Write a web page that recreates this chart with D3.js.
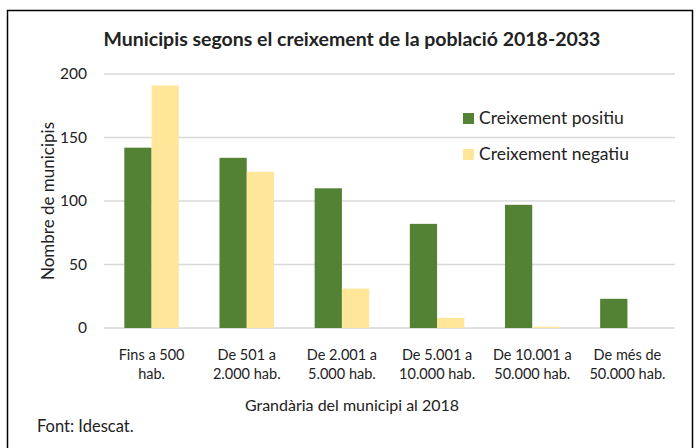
<!DOCTYPE html>
<html>
<head>
<meta charset="utf-8">
<script src="https://cdn.jsdelivr.net/npm/d3@7"></script>
<style>
  body { margin: 0; background: #fff; }
  text { font-family: Lato, "Open Sans", sans-serif; fill: #222; }
</style>
</head>
<body>
<div id="chart" style="width:699px;height:448px"></div>
<script>
const categories = [
  ["Fins a 500", "hab."],
  ["De 501 a", "2.000 hab."],
  ["De 2.001 a", "5.000 hab."],
  ["De 5.001 a", "10.000 hab."],
  ["De 10.001 a", "50.000 hab."],
  ["De més de", "50.000 hab."]
];
const seriesNames = ["Creixement positiu", "Creixement negatiu"];
const positiu = [142, 134, 110, 82, 97, 23];
const negatiu = [191, 123, 31, 8, 1, 0];
const yTicks = [0, 50, 100, 150, 200];
const colors = ["#548235", "#FFE699"];

const width = 699, height = 448;
const margin = { top: 74, right: 24, bottom: 120, left: 104 };
const w = width - margin.left - margin.right;
const h = 328 - margin.top;

const svg = d3.select("#chart").append("svg").attr("width", width).attr("height", height);

// outer frame
svg.append("rect").attr("x", 7.5).attr("y", 10.5).attr("width", 685).attr("height", 450)
  .attr("fill", "none").attr("stroke", "#000").attr("stroke-width", 1.5);

const g = svg.append("g").attr("transform", `translate(${margin.left},${margin.top})`);

const idx = categories.map((d, i) => i);
const x = d3.scaleBand().domain(idx).range([0, w]).paddingInner(0.427).paddingOuter(0.2135);
const x1 = d3.scaleBand().domain([0, 1]).range([0, x.bandwidth()]);
const y = d3.scaleLinear().domain([0, 200]).range([h, 0]);

// gridlines
g.selectAll(".grid").data(yTicks).enter().append("line")
  .attr("x1", 0).attr("x2", w)
  .attr("y1", d => y(d)).attr("y2", d => y(d))
  .attr("stroke", "#d9d9d9").attr("stroke-width", 1.3);

// y tick labels
const yAxis = g.append("g").call(d3.axisLeft(y).tickValues(yTicks).tickSize(0).tickPadding(17));
yAxis.select(".domain").remove();
yAxis.selectAll("text").style("font-family", "Lato, sans-serif").style("font-size", "15.5px").attr("fill", "#222");

const table = idx.map(i => [positiu[i], negatiu[i]]);
const groups = g.selectAll(".grp").data(table).enter().append("g")
  .attr("transform", (d, i) => `translate(${x(i)},0)`);
groups.selectAll("rect").data(d => d).enter().append("rect")
  .attr("x", (d, j) => x1(j)).attr("width", x1.bandwidth())
  .attr("y", d => y(d)).attr("height", d => h - y(d))
  .attr("fill", (d, j) => colors[j]);

// x labels
const xl = g.selectAll(".xl").data(categories).enter().append("text")
  .attr("text-anchor", "middle").style("font-size", "14.5px")
  .attr("transform", (d, i) => `translate(${x(i) + x.bandwidth() / 2},${h + 32})`);
xl.append("tspan").attr("x", 0).attr("dy", 0).text(d => d[0]);
xl.append("tspan").attr("x", 0).attr("dy", 19).text(d => d[1]);

// title
svg.append("text").attr("x", 352).attr("y", 46).attr("text-anchor", "middle")
  .style("font-size", "19.5px").style("font-weight", "bold").attr("fill", "#000")
  .text("Municipis segons el creixement de la població 2018-2033");

// axis titles
svg.append("text").attr("transform", "translate(54,201) rotate(-90)").attr("text-anchor", "middle")
  .style("font-size", "17px").text("Nombre de municipis");
svg.append("text").attr("x", 352).attr("y", 411).attr("text-anchor", "middle")
  .style("font-size", "16px").text("Grandària del municipi al 2018");

// source
svg.append("text").attr("x", 37).attr("y", 432).style("font-size", "16.5px").text("Font: Idescat.");

// legend
const lg = svg.append("g").attr("transform", "translate(463,113)");
seriesNames.forEach((s, i) => {
  const row = lg.append("g").attr("transform", `translate(0,${i * 36})`);
  row.append("rect").attr("width", 11).attr("height", 11).attr("fill", colors[i]);
  row.append("text").attr("x", 16).attr("y", 11).style("font-size", "17.5px").text(s);
});
</script>
</body>
</html>
